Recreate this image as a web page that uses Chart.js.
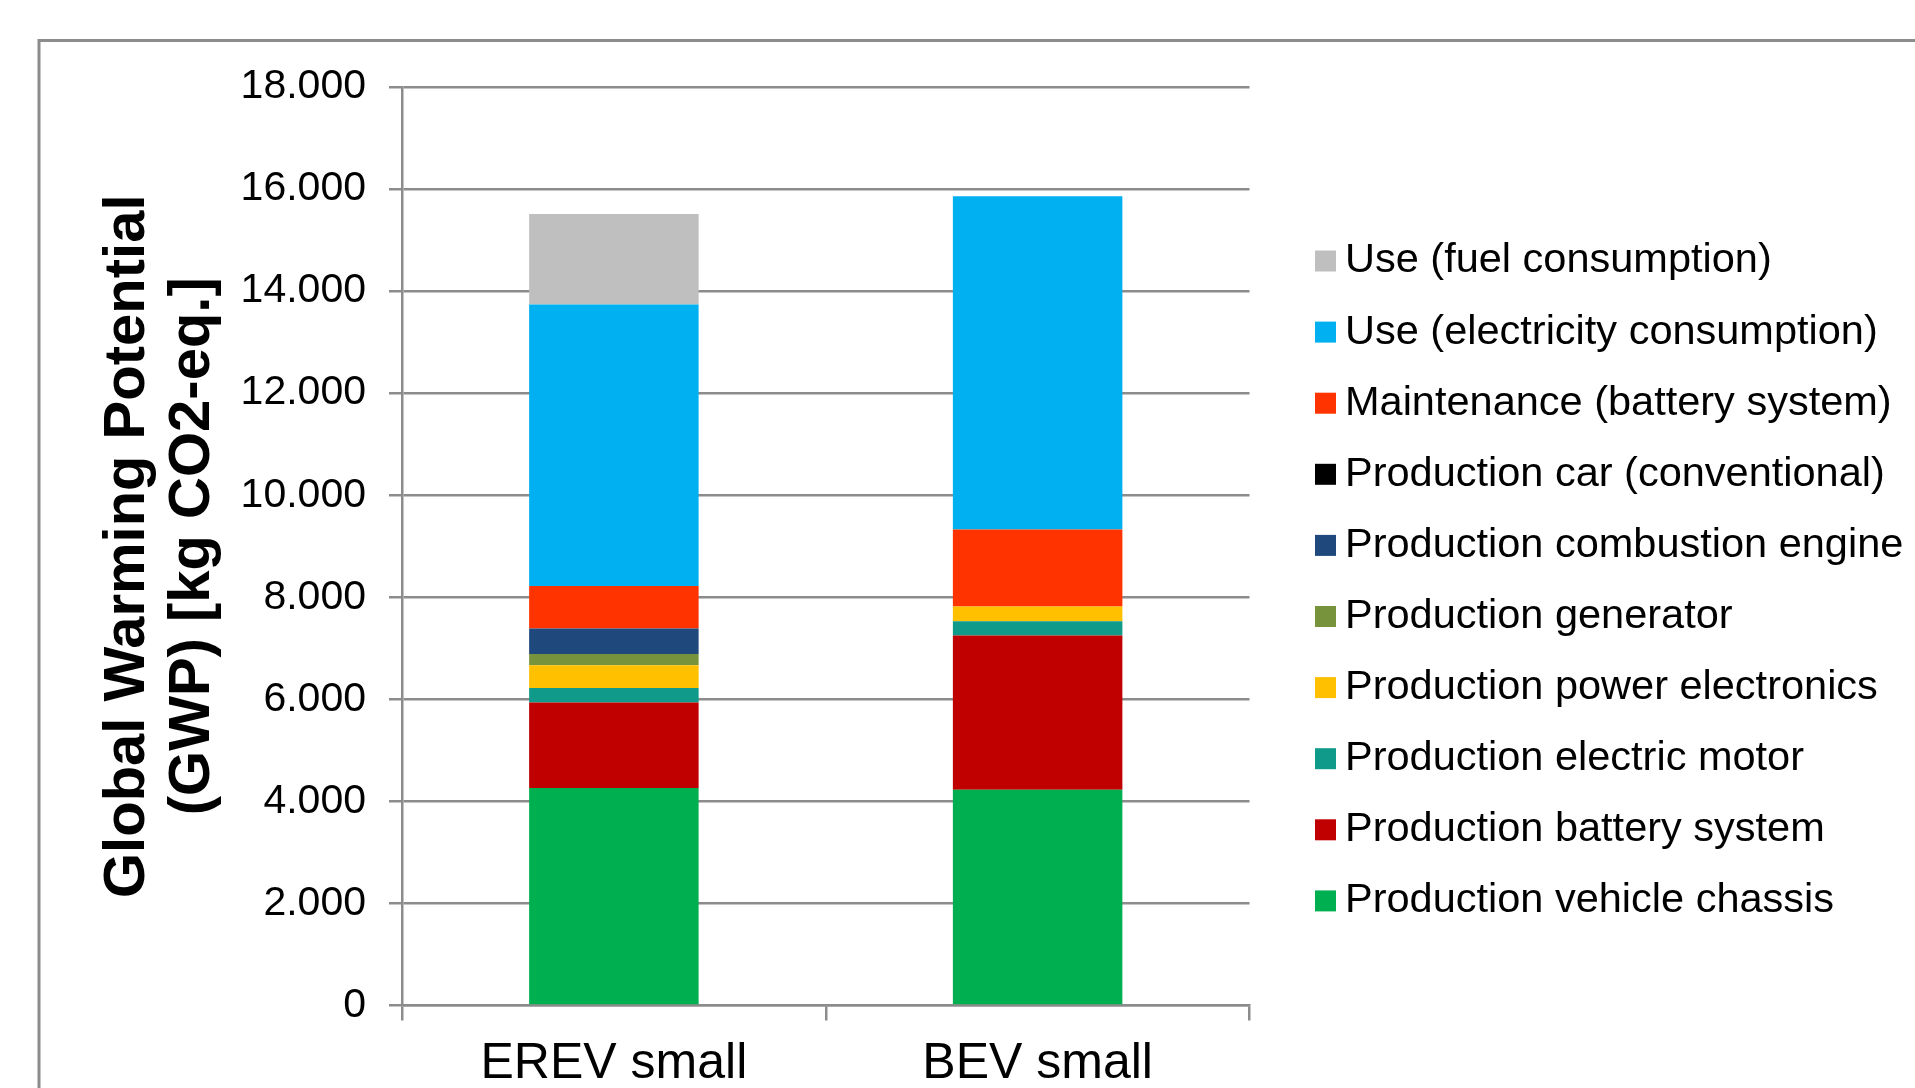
<!DOCTYPE html>
<html>
<head>
<meta charset="utf-8">
<script src="https://cdn.jsdelivr.net/npm/chart.js@4/dist/chart.umd.min.js"></script>
<style>
  html, body { margin: 0; padding: 0; background: #ffffff; overflow: hidden; }
  #wrap { width: 1915px; height: 1088px; position: relative; }
</style>
</head>
<body>
<div id="wrap"><canvas id="c" width="1915" height="1088"></canvas></div>
<script>
// ---- Data ----
const categories = ['EREV small', 'BEV small'];
const prodVehicleChassis   = [4260, 4230];
const prodBatterySystem    = [1680, 3020];
const prodElectricMotor    = [280, 280];
const prodPowerElectronics = [450, 290];
const prodGenerator        = [220, 0];
const prodCombustionEngine = [500, 0];
const prodCarConventional  = [0, 0];
const maintenanceBattery   = [830, 1510];
const useElectricity       = [5520, 6530];
const useFuel              = [1770, 0];

const seriesLabels = [
  'Production vehicle chassis',
  'Production battery system',
  'Production electric motor',
  'Production power electronics',
  'Production generator',
  'Production combustion engine',
  'Production car (conventional)',
  'Maintenance (battery system)',
  'Use (electricity consumption)',
  'Use (fuel consumption)'
];
const seriesValues = [
  prodVehicleChassis, prodBatterySystem, prodElectricMotor, prodPowerElectronics,
  prodGenerator, prodCombustionEngine, prodCarConventional, maintenanceBattery,
  useElectricity, useFuel
];
const seriesColors = [
  '#00b050', '#c00000', '#0f9a8a', '#ffc000', '#77933c',
  '#1f497d', '#000000', '#ff3300', '#00b0f0', '#bfbfbf'
];
const yAxisTitle = ['Global Warming Potential', '(GWP) [kg CO2-eq.]'];

const FONT = "'Liberation Sans', Arial, sans-serif";
const GRID = '#8c8c8c';

const datasets = seriesLabels.map((lab, i) => ({
  label: lab,
  data: seriesValues[i],
  backgroundColor: seriesColors[i],
  borderWidth: 0,
  categoryPercentage: 1.0,
  barPercentage: 0.4
}));

const frame = {
  id: 'frame',
  beforeDraw(chart) {
    const ctx = chart.ctx;
    ctx.save();
    ctx.strokeStyle = GRID;
    ctx.lineWidth = 3;
    ctx.beginPath();
    ctx.moveTo(39, 1100);
    ctx.lineTo(39, 40.5);
    ctx.lineTo(1930, 40.5);
    ctx.stroke();
    ctx.restore();
  }
};

const sideLegend = {
  id: 'sideLegend',
  afterDraw(chart) {
    const ctx = chart.ctx;
    const ds = chart.data.datasets.slice().reverse();
    const boxX = 1315, box = 21, textX = 1345, firstY = 261, step = 71.1;
    ctx.save();
    ctx.font = '41.5px ' + FONT;
    ctx.textBaseline = 'middle';
    ctx.textAlign = 'left';
    ds.forEach((d, i) => {
      const cy = firstY + i * step;
      ctx.fillStyle = d.backgroundColor;
      ctx.fillRect(boxX, cy - box / 2, box, box);
      ctx.fillStyle = '#000000';
      ctx.fillText(d.label, textX, cy);
    });
    ctx.restore();
  }
};

function fmt(v) {
  return String(Math.round(v)).replace(/\B(?=(\d{3})+(?!\d))/g, '.');
}

new Chart(document.getElementById('c'), {
  type: 'bar',
  data: { labels: categories, datasets },
  options: {
    responsive: false,
    animation: false,
    devicePixelRatio: 1,
    layout: { padding: { left: 0, right: 665.5, top: 87, bottom: 0 } },
    plugins: {
      legend: { display: false },
      tooltip: { enabled: false },
      title: { display: false }
    },
    scales: {
      x: {
        stacked: true,
        offset: true,
        grid: { display: true, drawOnChartArea: false, drawTicks: true, tickLength: 15, color: GRID, lineWidth: 2.5 },
        border: { display: true, color: GRID, width: 2.5 },
        ticks: { color: '#000000', font: { family: FONT, size: 50 }, padding: 14, maxRotation: 0 },
        afterFit(scale) { scale.height = 82.5; }
      },
      y: {
        stacked: true,
        min: 0,
        max: 18000,
        grid: { color: GRID, lineWidth: 2.5, tickLength: 13, drawTicks: true },
        border: { display: true, color: GRID, width: 2.5 },
        ticks: {
          stepSize: 2000,
          color: '#000000',
          font: { family: FONT, size: 41 },
          padding: 23,
          callback: (v) => fmt(v)
        },
        title: {
          display: true,
          text: yAxisTitle,
          color: '#000000',
          font: { family: FONT, size: 58, weight: 'bold', lineHeight: 1.12 },
          padding: { top: 96, bottom: 0 }
        },
        afterFit(scale) { scale.width = 402; }
      }
    }
  },
  plugins: [frame, sideLegend]
});
</script>
</body>
</html>
